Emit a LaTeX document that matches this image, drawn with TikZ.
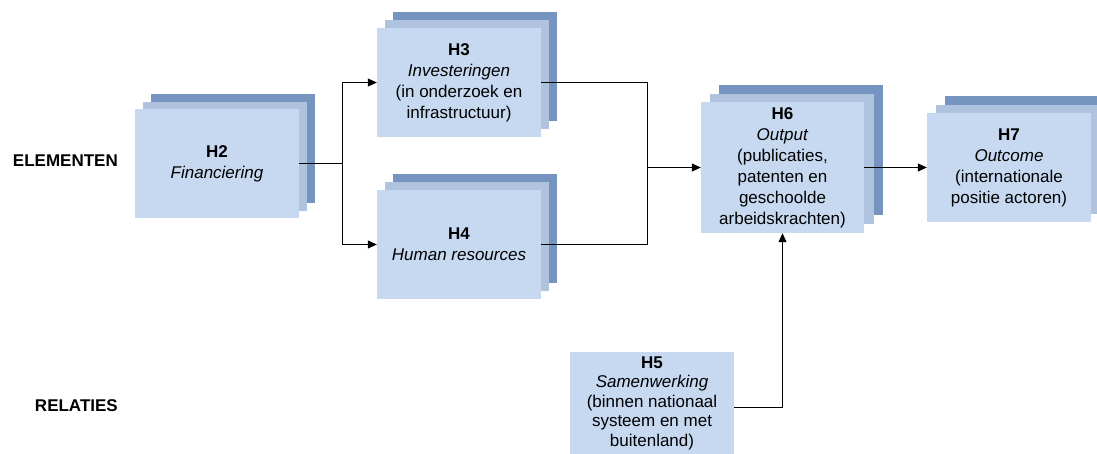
\documentclass[tikz,border=0pt]{standalone}
\usepackage{fontspec}
\setmainfont{Liberation Sans}
\usetikzlibrary{arrows.meta}
\definecolor{frontc}{RGB}{198,217,241}
\definecolor{midc}{RGB}{176,195,222}
\definecolor{backc}{RGB}{117,149,192}
\begin{document}
\begin{tikzpicture}[x=1pt,y=-1pt,
  boxbase/.style={inner sep=0pt, minimum width=164pt, minimum height=109pt, draw=none},
  frontbox/.style={boxbase, fill=frontc, align=center, font=\fontsize{17}{21}\selectfont},
  midbox/.style={boxbase, fill=midc},
  backbox/.style={boxbase, fill=backc},
  lab/.style={font=\fontsize{17}{21}\selectfont\bfseries, inner sep=0pt},
  conn/.style={line width=0.8pt, black},
  arr/.style={conn, -{Triangle[length=9pt,width=8pt]}}]
\useasboundingbox (0,0) rectangle (1097,453);
\clip (0,0) rectangle (1097,453);

% H2 stack
\node[backbox] (h2b) at (233,148.5) {};
\node[midbox] (h2m) at (225,156) {};
\node[frontbox] (h2) at (217,163.5) {\textbf{H2}\\\textit{Financiering}};

% H3 stack
\node[backbox] (h3b) at (475,66.5) {};
\node[midbox] (h3m) at (467,74.5) {};
\node[frontbox] (h3) at (459,82.5) {\textbf{H3}\\\textit{Investeringen}\\(in onderzoek en\\infrastructuur)};

% H4 stack
\node[backbox] (h4b) at (475,228.5) {};
\node[midbox] (h4m) at (467,236.5) {};
\node[frontbox] (h4) at (459,244.5) {\textbf{H4}\\\textit{Human resources}};

% H6 stack
\node[backbox, minimum width=164pt, minimum height=130pt] (h6b) at (801,150) {};
\node[midbox, minimum width=164pt, minimum height=130pt] (h6m) at (792,159) {};
\node[frontbox, minimum width=163pt, minimum height=131pt] (h6) at (782.5,167.5) {\textbf{H6}\\\textit{Output}\\(publicaties,\\patenten en\\geschoolde\\arbeidskrachten)};

% H7 stack
\node[backbox] (h7b) at (1027,150.5) {};
\node[midbox] (h7m) at (1018,159) {};
\node[frontbox] (h7) at (1009,167.5) {\textbf{H7}\\\textit{Outcome}\\(internationale\\positie actoren)};

% H5 single
\node[frontbox, minimum height=110pt] (h5) at (652,407) {};
\node[align=center, inner sep=0pt, font=\fontsize{17}{19.5}\selectfont] (h5t) at (652,403) {\textbf{H5}\\\textit{Samenwerking}\\(binnen nationaal\\systeem en met\\buitenland)};

% labels
\node[lab, anchor=east] (el) at (118,161) {ELEMENTEN};
\node[lab, anchor=east] (rel) at (118,406) {RELATIES};

% connectors
\coordinate (j1) at (342,163.5);
\coordinate (j2) at (647,167.5);
\draw[conn] (h2.east) -- (j1);
\draw[arr] (j1) |- (h3.west);
\draw[arr] (j1) |- (h4.west);
\draw[conn] (h3.east) -| (j2);
\draw[conn] (h4.east) -| (j2);
\draw[arr] (j2) -- (h6.west);
\draw[arr] (h6.east) -- (h7.west);
\draw[arr] (h5.east) -| (h6.south);
\end{tikzpicture}
\end{document}
